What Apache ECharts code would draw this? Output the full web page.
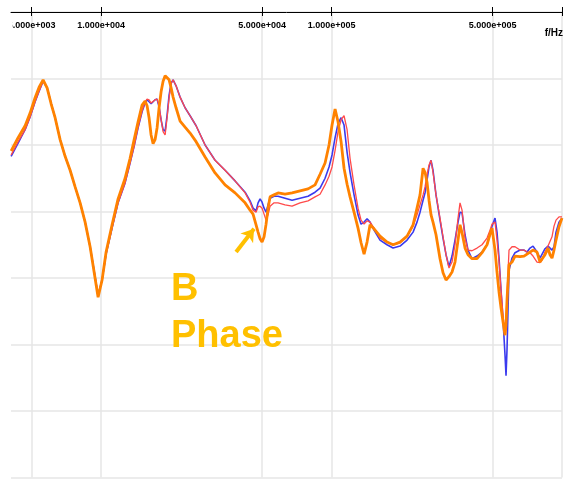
<!DOCTYPE html>
<html><head><meta charset="utf-8">
<script src="https://cdn.jsdelivr.net/npm/echarts@6/dist/echarts.min.js"></script>
<style>html,body{margin:0;padding:0;background:#fff}#c{width:564px;height:484px}</style>
</head><body><div id="c"></div>
<script>
// Frequency sweep (Hz), shared by all three traces
const freqHz = [4070,4364,4680,4919,5171,5382,5602,5831,6069,6316,6640,6980,7338,7714,8110,8524,8961,9325,9705,10100,10512,11160,11850,12710,13360,13906,14470,15060,15520,15830,16150,16480,16810,17150,17500,17850,18210,18580,18960,19340,19730,20130,20530,21150,22020,23140,24330,25840,28270,31230,34510,38140,42150,44310,45650,47040,47990,48960,49950,50960,51980,53030,54100,56300,58610,62840,67410,73010,79080,84810,89150,93730,97530,100500,103600,106700,110000,113300,116800,120300,125200,130300,134300,138400,142600,146900,152900,162300,174100,184900,198300,212700,225800,234900,242100,249500,254500,259600,264800,270200,275600,284000,295600,304600,313900,323300,333300,343400,353900,361000,368300,379500,391000,407000,427900,449700,472800,487100,497000,512100,522400,533000,543700,554700,565900,571600,577300,589000,606900,625400,657500,684300,705100,726500,748600,779100,802800,819000,843900,869600,887100,905000,923300,941900,970500,1000000];

const blueDb = [-21.7,-19.7,-17.7,-15.8,-13.5,-11.9,-10.4,-11.4,-13.7,-15.9,-19.2,-21.7,-23.8,-26.3,-28.7,-31.6,-35.3,-38.9,-42.6,-40.3,-36.4,-32.5,-28.7,-25.7,-22.7,-20.2,-17.4,-15.0,-13.7,-13.2,-13.5,-13.8,-13.7,-13.2,-13.1,-14.3,-16.2,-17.7,-17.9,-15.5,-12.5,-10.7,-10.2,-11.1,-12.8,-14.4,-15.6,-17.1,-20.0,-22.3,-23.8,-25.4,-27.1,-28.4,-29.5,-29.9,-28.7,-28.1,-28.6,-29.5,-30.1,-29.0,-28.0,-27.7,-27.7,-28.0,-28.3,-28.0,-27.7,-27.1,-26.5,-25.0,-23.3,-21.5,-18.9,-16.8,-15.9,-17.0,-21.1,-24.1,-27.5,-30.5,-31.9,-31.6,-31.1,-31.6,-32.8,-34.3,-35.0,-35.5,-35.2,-34.3,-33.1,-31.6,-30.1,-28.3,-27.2,-25.3,-23.3,-22.3,-23.8,-27.5,-31.3,-34.0,-36.5,-38.3,-36.7,-34.3,-31.6,-30.1,-30.2,-33.5,-35.8,-37.1,-36.7,-36.1,-35.0,-33.5,-32.2,-31.0,-33.1,-37.0,-41.8,-46.3,-51.6,-54.7,-50.8,-38.8,-37.0,-36.2,-35.8,-35.8,-36.1,-35.5,-35.2,-36.1,-37.0,-36.7,-35.6,-35.2,-35.0,-35.8,-35.3,-33.1,-31.6,-31.0];

const redDb = [-21.5,-19.5,-17.7,-15.8,-13.5,-11.9,-10.4,-11.4,-13.7,-15.9,-19.2,-21.7,-23.8,-26.3,-28.7,-31.6,-35.3,-38.9,-42.6,-40.3,-36.4,-32.5,-28.7,-25.7,-22.7,-20.2,-17.3,-14.9,-13.5,-13.1,-13.2,-13.7,-13.5,-13.2,-13.1,-14.1,-16.2,-18.0,-18.5,-15.9,-12.9,-10.8,-10.2,-11.1,-12.8,-14.4,-15.6,-17.1,-20.0,-22.3,-23.8,-25.4,-27.2,-28.6,-29.8,-30.1,-29.3,-29.2,-29.5,-30.4,-31.3,-30.5,-29.2,-28.7,-28.7,-29.0,-29.2,-28.7,-28.4,-27.8,-27.4,-26.0,-24.7,-23.3,-20.8,-18.0,-16.2,-15.6,-17.7,-22.0,-26.0,-29.5,-31.3,-31.9,-31.4,-31.6,-32.5,-34.0,-34.6,-35.0,-34.7,-33.7,-32.2,-30.5,-29.0,-27.5,-26.3,-24.5,-23.0,-22.3,-24.1,-27.5,-31.0,-33.8,-36.5,-38.5,-37.6,-35.0,-31.0,-28.7,-29.8,-34.0,-35.8,-35.9,-35.5,-35.0,-34.0,-32.8,-31.9,-31.6,-34.3,-37.6,-41.8,-45.6,-48.3,-46.6,-42.6,-35.8,-35.3,-35.3,-35.8,-35.8,-36.1,-36.2,-36.7,-37.6,-37.7,-37.3,-36.1,-35.2,-34.9,-33.8,-32.2,-31.3,-30.8,-30.8];

const orangeDb = [-20.9,-18.9,-17.1,-15.2,-12.9,-11.3,-10.2,-11.4,-13.8,-15.9,-19.2,-21.7,-23.8,-26.3,-28.7,-31.6,-35.3,-39.1,-42.9,-40.3,-36.1,-32.0,-28.1,-25.0,-22.0,-19.2,-16.5,-14.0,-13.4,-14.1,-15.9,-18.5,-19.8,-19.2,-17.4,-14.4,-12.0,-10.4,-9.6,-9.5,-10.2,-11.4,-12.8,-14.4,-16.4,-17.3,-18.2,-19.5,-21.8,-24.2,-26.0,-27.2,-28.7,-29.8,-30.4,-32.0,-33.1,-34.1,-34.6,-33.8,-31.9,-29.5,-27.8,-27.5,-27.2,-27.4,-27.2,-26.9,-26.6,-26.0,-24.4,-22.7,-20.0,-17.0,-14.6,-16.5,-19.5,-23.5,-25.9,-27.8,-30.1,-32.5,-34.7,-36.4,-34.6,-32.0,-32.6,-33.7,-34.6,-35.0,-34.6,-33.7,-32.0,-29.5,-27.5,-23.5,-24.1,-25.6,-28.3,-30.5,-31.6,-33.5,-37.1,-39.2,-40.3,-39.8,-39.1,-37.6,-34.3,-32.0,-33.2,-35.5,-36.5,-37.1,-37.1,-36.2,-35.0,-33.4,-32.5,-35.8,-39.1,-42.1,-44.5,-46.6,-48.6,-47.1,-43.3,-38.0,-37.6,-36.7,-36.8,-36.7,-36.4,-36.1,-35.8,-36.1,-37.6,-37.7,-36.5,-35.5,-36.5,-37.0,-35.8,-34.3,-32.3,-31.0];

const tickFreqs = [5000, 10000, 50000, 100000, 500000, 1000000];
const labelFreqs = [5000, 10000, 50000, 100000, 500000];
const axisUnit = 'f/Hz';
const noteLines = ['B', 'Phase'];
const arrowFrom = [38530, -36.1];
const arrowTo = [46110, -32.6];

function fmtSci(v) {
  const ex = Math.floor(Math.log10(v) + 1e-9);
  const m = v / Math.pow(10, ex);
  return m.toFixed(3) + 'e+' + String(ex).padStart(3, '0');
}
const pairs = arr => freqHz.map((f, i) => [f, arr[i]]);

const FONT = "'Liberation Sans', Arial, sans-serif";
const GOLD = '#FFC000';

const chart = echarts.init(document.getElementById('c'), null, {renderer: 'canvas'});
chart.setOption({
  animation: false,
  backgroundColor: '#ffffff',
  grid: {left: 11, right: 2, top: 12, bottom: 6.5, containLabel: false},
  xAxis: [{
    type: 'log', logBase: 10, min: 4065, max: 1000000, position: 'top',
    axisLine: {show: true, lineStyle: {color: '#000', width: 1}},
    axisTick: {show: true, inside: false, length: 5, customValues: tickFreqs, lineStyle: {color: '#000'}},
    axisLabel: {show: true, inside: true, margin: 9, customValues: labelFreqs, formatter: v => fmtSci(v),
      fontSize: 9, fontWeight: 'bold', color: '#000', fontFamily: FONT},
    splitLine: {show: true, lineStyle: {color: '#e6e6e6', width: 1.5}},
    minorTick: {show: false}, minorSplitLine: {show: false}
  }, {
    type: 'log', logBase: 10, min: 4065, max: 1000000, position: 'top',
    axisLine: {show: false},
    axisTick: {show: true, inside: true, length: 4, customValues: tickFreqs, lineStyle: {color: '#000'}},
    axisLabel: {show: false},
    splitLine: {show: false}
  }],
  yAxis: {
    type: 'value', min: -70, max: 0, interval: 10,
    axisLine: {show: false}, axisTick: {show: false}, axisLabel: {show: false},
    splitLine: {show: true, lineStyle: {color: '#e6e6e6', width: 1.5}}
  },
  series: [
    {name: 'blue', type: 'line', data: pairs(blueDb), showSymbol: false, symbol: 'none',
      lineStyle: {color: '#3a3aee', width: 1.6}, z: 2},
    {name: 'red', type: 'line', data: pairs(redDb), showSymbol: false, symbol: 'none',
      lineStyle: {color: '#ff4a4a', width: 1.3}, z: 3},
    {name: 'orange', type: 'line', data: pairs(orangeDb), showSymbol: false, symbol: 'none',
      lineStyle: {color: '#ff8200', width: 2.8}, z: 4,
      markLine: {silent: true, symbol: ['none', 'arrow'], symbolSize: [12, 12],
        label: {show: false},
        lineStyle: {color: GOLD, width: 4, type: 'solid'},
        emphasis: {disabled: true},
        data: [[{coord: arrowFrom}, {coord: arrowTo}]]}}
  ],
  graphic: [
    {type: 'rect', left: 0, top: 17, shape: {width: 12.5, height: 18}, style: {fill: '#fff'}, z: 100},
    {type: 'text', right: 1, top: 28, style: {text: axisUnit, font: "bold 10px " + FONT, fill: '#000'}, z: 100},
    {type: 'text', left: 171, top: 266, style: {text: noteLines.join('\n'), font: "bold 38px " + FONT, fill: GOLD, lineHeight: 47}, z: 100}
  ]
});
</script></body></html>
